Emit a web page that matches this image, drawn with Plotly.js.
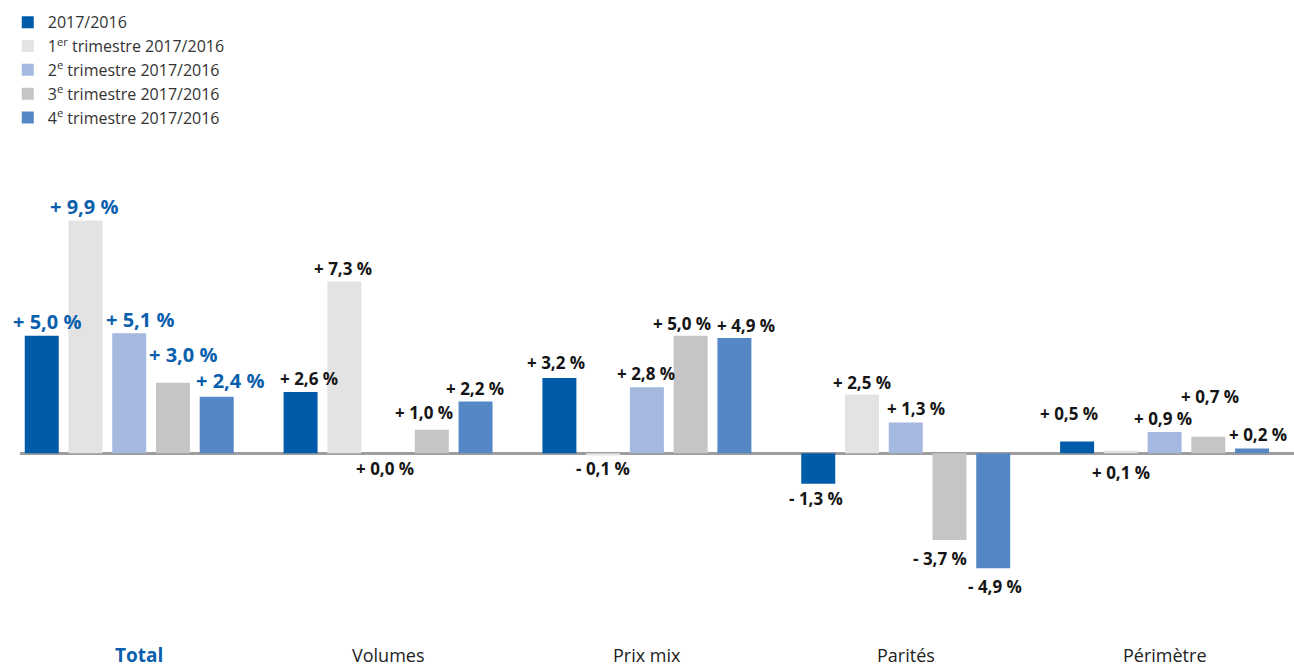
<!DOCTYPE html>
<html><head><meta charset="utf-8">
<script src="https://cdn.plot.ly/plotly-3.0.1.min.js"></script>
<style>html,body{margin:0;padding:0;background:#fff}#chart{width:1294px;height:667px}</style>
</head><body><div id="chart"></div>
<script>
// ---- data ----
const categories = ["Total", "Volumes", "Prix mix", "Parités", "Périmètre"];
const seriesNames = ["2017/2016", "1<sup>er</sup> trimestre 2017/2016", "2<sup>e</sup> trimestre 2017/2016", "3<sup>e</sup> trimestre 2017/2016", "4<sup>e</sup> trimestre 2017/2016"];
const yearly = [5.0, 2.6, 3.2, -1.3, 0.5];
const q1 = [9.9, 7.3, -0.1, 2.5, 0.1];
const q2 = [5.1, 0.0, 2.8, 1.3, 0.9];
const q3 = [3.0, 1.0, 5.0, -3.7, 0.7];
const q4 = [2.4, 2.2, 4.9, -4.9, 0.2];

// ---- styles ----
const colors = ["#005CA9", "#E3E3E3", "#A5B8DF", "#C5C5C5", "#5587C6"];
const allSeries = [yearly, q1, q2, q3, q4];
// per-label pixel nudges [dx, dy] (dy: distance from bar end, positive = away from bar)
const nudges = [
  [[5,14],[8,14],[-3,15],[-2,15],[-8,28]],
  [[-1,14],[-1,13],[0,13],[0,12],[0,19]],
  [[11,14],[-3,15],[-1,14],[10,14],[-2,14]],
  [[10,28],[-8,17],[-9,12],[-9,18],[2,40]],
  [[13,16],[-1,13],[12,13],[2,18],[6,14]]
];
const belowZero = [[false,false,false,true,false],[false,false,true,false,true],[false,true,false,false,false],[false,false,false,true,false],[false,false,false,true,false]];

const W = 1294, H = 667, ML = 20, MR = 0, MT = 150, MB = 47;
const xr = [-0.422, 4.5];
const bargap = 0.155, bargroupgap = 0.223;
const pxPerCat = (W - ML - MR) / (xr[1] - xr[0]);
const slot = pxPerCat * (1 - bargap) / 5;

function fmt(v) {
  const s = v < 0 ? "- " : "+ ";
  return s + Math.abs(v).toFixed(1).replace(".", ",") + " %";
}

const traces = allSeries.map((vals, s) => ({
  type: "bar", x: categories, y: vals, name: seriesNames[s],
  marker: {color: colors[s]}, hoverinfo: "skip"
}));

const annotations = [];
allSeries.forEach((vals, s) => {
  vals.forEach((v, c) => {
    const [dx, dy] = nudges[s][c];
    const below = belowZero[s][c];
    const isTotal = c === 0;
    annotations.push({
      x: categories[c], y: below ? Math.min(v, 0) : v, xref: "x", yref: "y",
      text: "<b>" + fmt(v) + "</b>", showarrow: false,
      xanchor: "center", yanchor: "middle",
      xshift: (s - 2) * slot + dx, yshift: below ? -dy : dy,
      font: {family: "Open Sans, sans-serif", size: isTotal ? 20 : 17, color: isTotal ? "#0A5FAD" : "#151515"}
    });
  });
});
categories.forEach((cat, c) => {
  annotations.push({
    x: cat, y: 0, xref: "x", yref: "paper", showarrow: false,
    text: c === 0 ? "<b>" + cat + "</b>" : cat,
    xanchor: "center", yanchor: "middle", yshift: -35, xshift: c === 0 ? 10 : 0,
    font: {family: "Open Sans, sans-serif", size: c === 0 ? 19 : 18, color: c === 0 ? "#0A5FAD" : "#222"}
  });
});

const layout = {
  width: W, height: H,
  margin: {l: ML, r: MR, t: MT, b: MB, pad: 0, autoexpand: false},
  paper_bgcolor: "#fff", plot_bgcolor: "#fff",
  barmode: "group", bargap: bargap, bargroupgap: bargroupgap,
  showlegend: true,
  legend: {x: 0.006, xref: "container", y: 0.992, yref: "container", xanchor: "left", yanchor: "top",
           font: {family: "Open Sans, sans-serif", size: 16, color: "#333"}, tracegroupgap: 0, itemclick: false},
  xaxis: {type: "category", range: xr, showticklabels: false, showgrid: false, zeroline: false, showline: false, ticks: ""},
  yaxis: {range: [-7.1, 12.9], showticklabels: false, showgrid: false, zeroline: true, zerolinecolor: "#9d9d9d", zerolinewidth: 3, showline: false, ticks: ""},
  annotations: annotations
};
Plotly.newPlot("chart", traces, layout, {displayModeBar: false, staticPlot: true});
</script></body></html>
